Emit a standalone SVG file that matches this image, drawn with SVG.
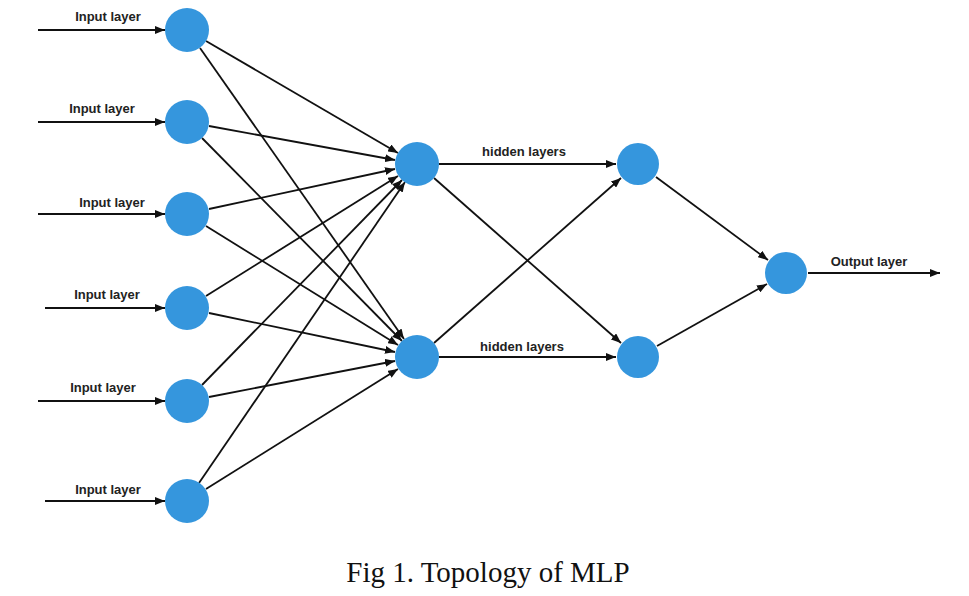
<svg xmlns="http://www.w3.org/2000/svg" width="969" height="596" viewBox="0 0 969 596">
<defs><marker id="ah" markerWidth="10" markerHeight="8" refX="10" refY="4" orient="auto" markerUnits="userSpaceOnUse"><path d="M0,0 L10,4 L0,8 z" fill="#111"/></marker></defs>
<style>.n{fill:#3596dd}.c line{stroke:#111;stroke-width:1.8;marker-end:url(#ah)}.t{font-family:"Liberation Sans",Arial,sans-serif;font-weight:bold;font-size:13px;fill:#222;text-anchor:middle}</style>
<rect width="969" height="596" fill="#fff"/>
<g class="c" id="connectors">
<line x1="38" y1="30" x2="165" y2="30"/><line x1="38" y1="122" x2="165" y2="122"/><line x1="38" y1="214" x2="165" y2="214"/><line x1="45" y1="308" x2="165" y2="308"/><line x1="38" y1="401" x2="165" y2="401"/><line x1="45" y1="501" x2="165" y2="501"/>
<line x1="206" y1="41" x2="398" y2="153"/><line x1="200" y1="48" x2="404" y2="339"/>
<line x1="209" y1="126" x2="395" y2="160"/><line x1="202" y1="138" x2="402" y2="341"/>
<line x1="209" y1="209" x2="395" y2="169"/><line x1="206" y1="226" x2="398" y2="345"/>
<line x1="206" y1="296" x2="398" y2="176"/><line x1="209" y1="313" x2="395" y2="352"/>
<line x1="202" y1="385" x2="402" y2="180"/><line x1="209" y1="397" x2="395" y2="361"/>
<line x1="199" y1="483" x2="405" y2="182"/><line x1="206" y1="489" x2="398" y2="369"/>
<line x1="439" y1="164" x2="616" y2="164"/><line x1="434" y1="178" x2="621" y2="343"/>
<line x1="434" y1="343" x2="621" y2="178"/><line x1="439" y1="357" x2="616" y2="357"/>
<line x1="656" y1="177" x2="768" y2="260"/><line x1="657" y1="346" x2="767" y2="284"/>
<line x1="808" y1="273" x2="940" y2="273"/>
</g>
<g id="in1"><circle class="n" cx="187" cy="30" r="22"/><text class="t" x="108" y="21">Input layer</text></g>
<g id="in2"><circle class="n" cx="187" cy="122" r="22"/><text class="t" x="102" y="113">Input layer</text></g>
<g id="in3"><circle class="n" cx="187" cy="214" r="22"/><text class="t" x="112" y="207">Input layer</text></g>
<g id="in4"><circle class="n" cx="187" cy="308" r="22"/><text class="t" x="107" y="299">Input layer</text></g>
<g id="in5"><circle class="n" cx="187" cy="401" r="22"/><text class="t" x="103" y="392">Input layer</text></g>
<g id="in6"><circle class="n" cx="187" cy="501" r="22"/><text class="t" x="108" y="494">Input layer</text></g>
<g id="h1a"><circle class="n" cx="417" cy="164" r="22"/><text class="t" x="524" y="156">hidden layers</text></g>
<g id="h1b"><circle class="n" cx="417" cy="357" r="22"/><text class="t" x="522" y="351">hidden layers</text></g>
<g id="h2a"><circle class="n" cx="638" cy="164" r="21"/></g>
<g id="h2b"><circle class="n" cx="638" cy="357" r="21"/></g>
<g id="out"><circle class="n" cx="786" cy="273" r="21"/><text class="t" x="869" y="266">Output layer</text></g>
<text x="488" y="582" font-family="Liberation Serif,Times New Roman,serif" font-size="29" fill="#111" text-anchor="middle">Fig 1. Topology of MLP</text>
</svg>
